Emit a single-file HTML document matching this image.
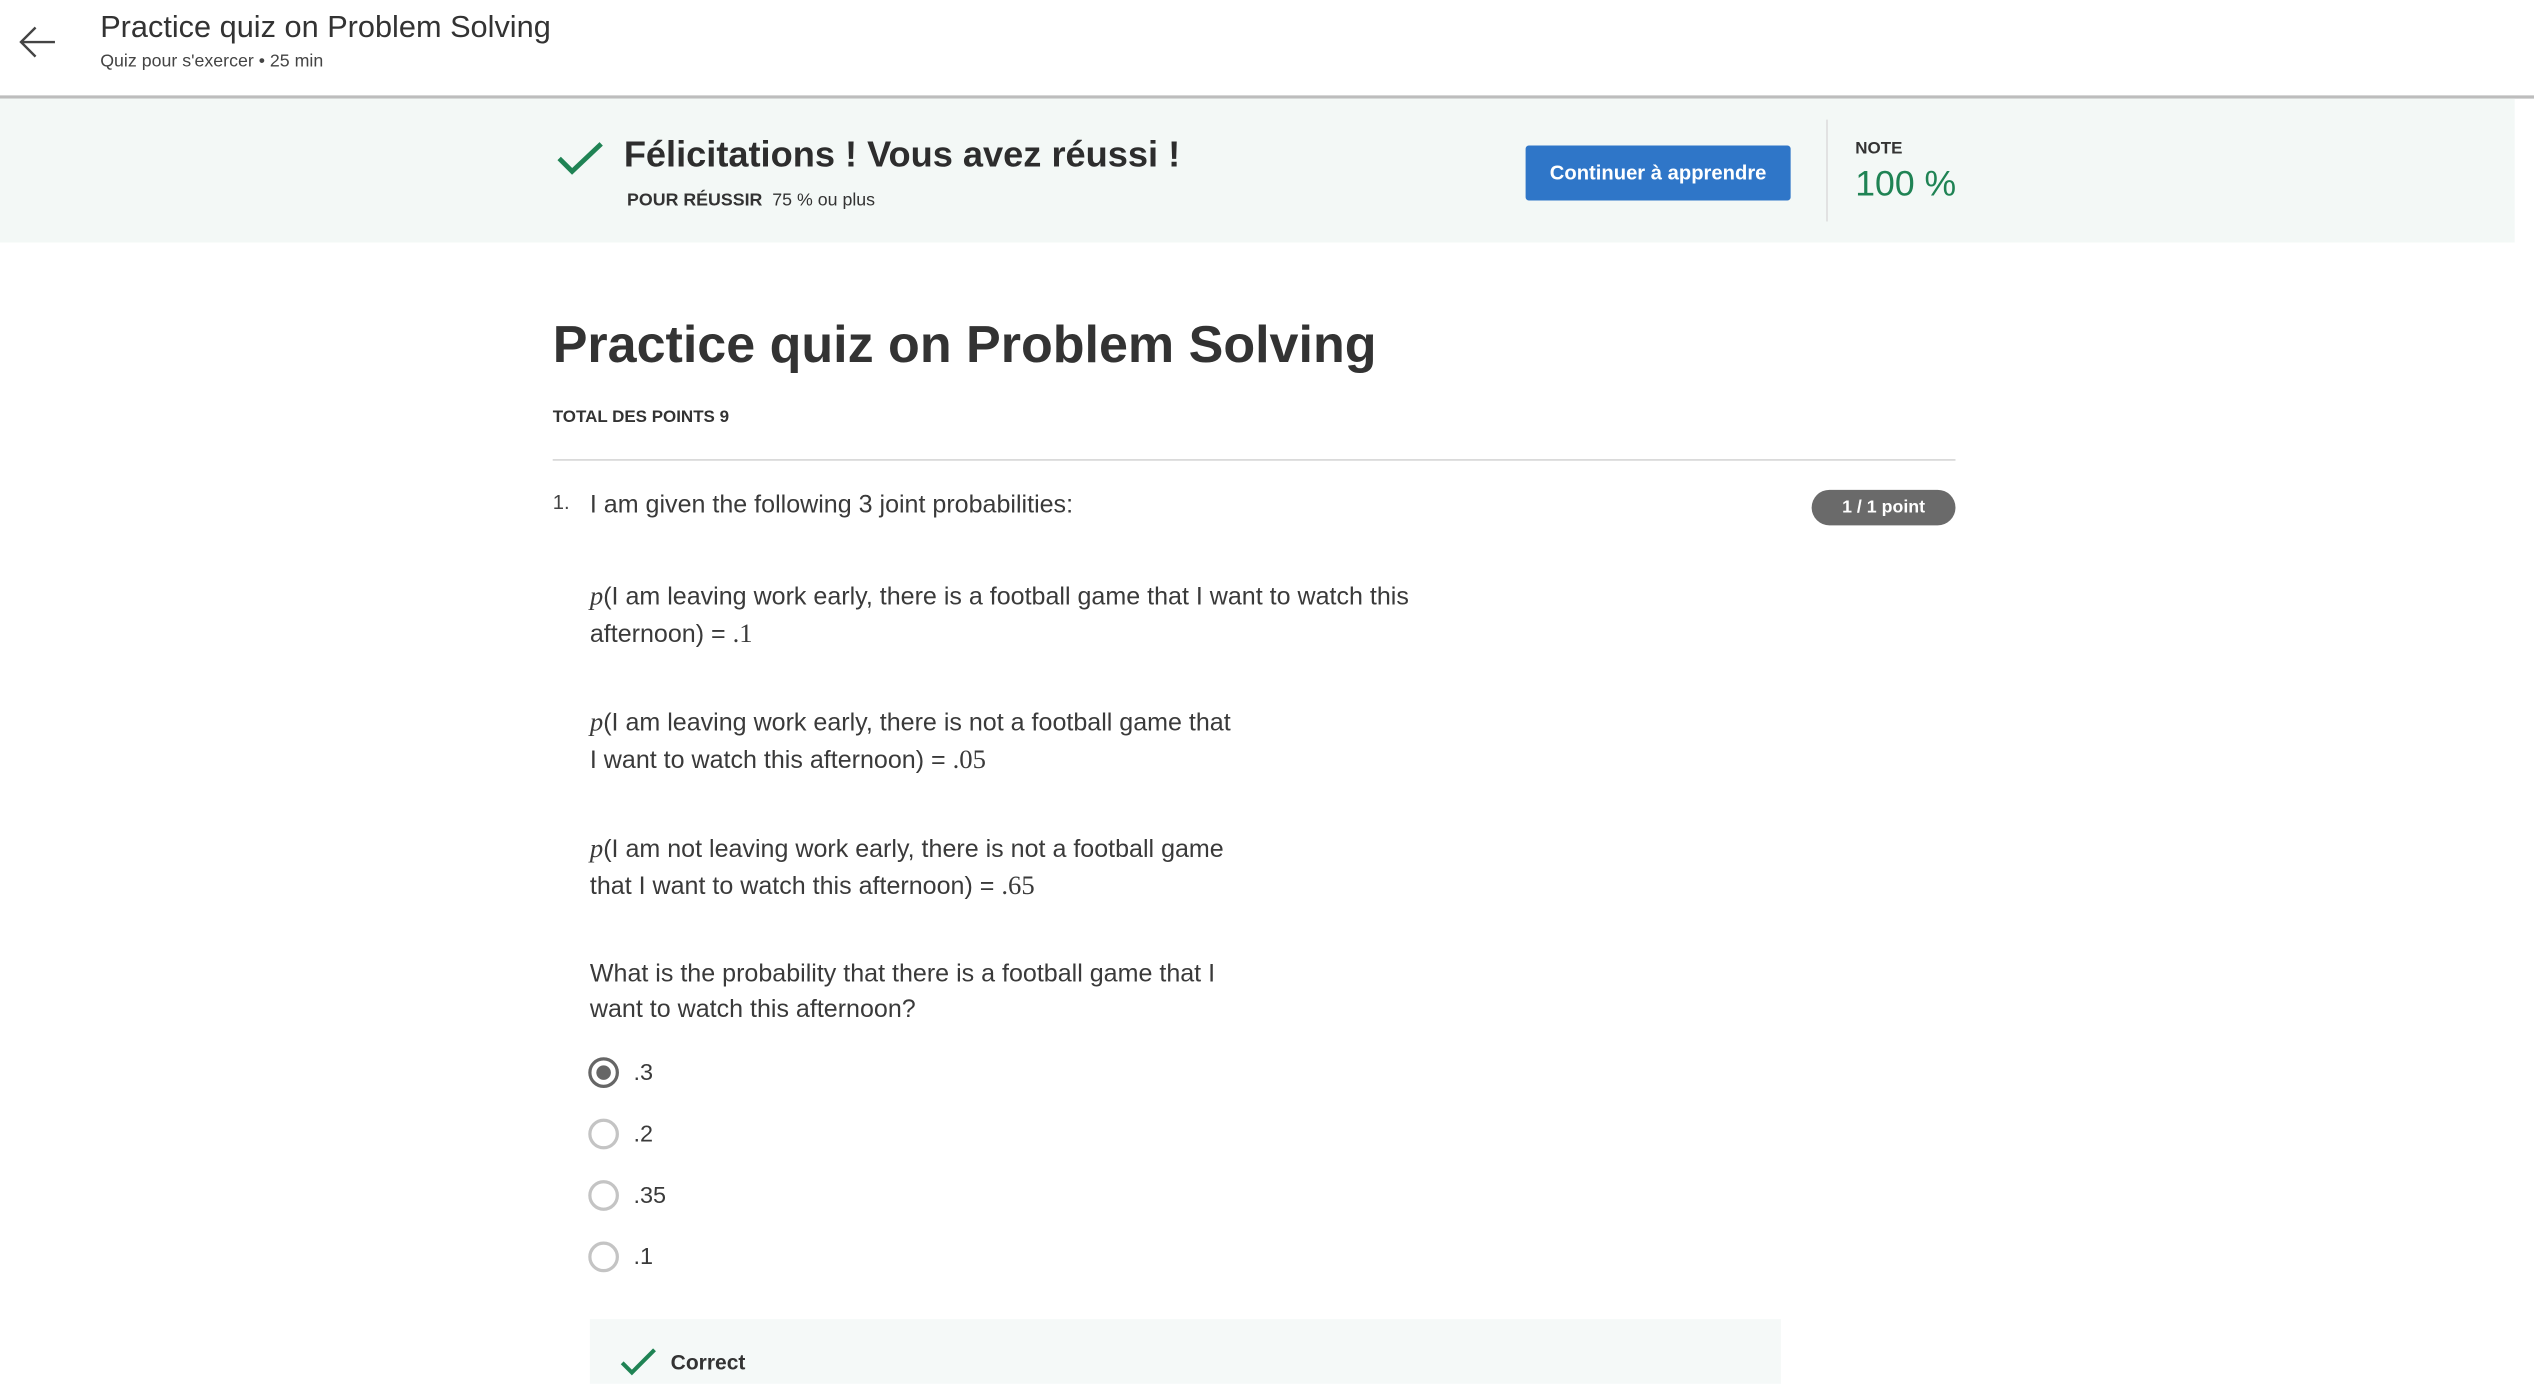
<!DOCTYPE html>
<html><head><meta charset="utf-8"><style>
html,body{margin:0;padding:0;width:2534px;height:1366px;overflow:hidden;background:#fff}
#w{position:absolute;left:0;top:0;width:1568px;height:845px;transform:scale(1.6161,1.6166);transform-origin:0 0;font-family:"Liberation Sans",sans-serif;color:#333}
.a{position:absolute;white-space:nowrap}
.q{position:absolute;left:365px;font-size:15.5px;line-height:22px;color:#3a3a3a;white-space:nowrap}
.m{font-family:"Liberation Serif",serif;font-size:16.5px}
.r{position:absolute;left:364px;width:15px;height:15px;border:2px solid #c4c4c4;border-radius:50%}
.l{position:absolute;left:392px;font-size:14.5px;color:#3a3a3a}
</style></head><body><div id="w">
<svg class="a" style="left:10px;top:14px" width="26" height="24"><path d="M24 12H3M12 3L3 12L12 21" fill="none" stroke="#444" stroke-width="1.5"/></svg>
<div class="a" style="left:62px;top:7px;font-size:19px;color:#333">Practice quiz on Problem Solving</div>
<div class="a" style="left:62px;top:32px;font-size:11px;color:#444">Quiz pour s'exercer • 25 min</div>
<div class="a" style="left:0;top:59px;width:1568px;height:2px;background:#bdbdbd"></div>
<div class="a" style="left:0;top:61px;width:1556px;height:89px;background:#f3f8f6"></div>
<svg class="a" style="left:344px;top:86px" width="30" height="24"><path d="M2 12L10 20L28 3" fill="none" stroke="#1f8354" stroke-width="3"/></svg>
<div class="a" style="left:386px;top:83px;font-size:22.4px;font-weight:bold;color:#2d2d2d">Félicitations ! Vous avez réussi !</div>
<div class="a" style="left:388px;top:118px;font-size:11px;color:#333"><b>POUR RÉUSSIR</b>&nbsp; 75 % ou plus</div>
<div class="a" style="left:944px;top:90px;width:164px;height:34px;background:#2f76c8;border-radius:2px;color:#fff;font-size:12.5px;font-weight:bold;line-height:34px;text-align:center">Continuer à apprendre</div>
<div class="a" style="left:1130px;top:74px;width:1px;height:63px;background:#ddd"></div>
<div class="a" style="left:1148px;top:86px;font-size:10.5px;font-weight:bold;color:#333">NOTE</div>
<div class="a" style="left:1148px;top:101px;font-size:22px;color:#1f8354">100 %</div>
<div class="a" style="left:342px;top:195px;font-size:32.2px;font-weight:bold;color:#333">Practice quiz on Problem Solving</div>
<div class="a" style="left:342px;top:252px;font-size:10.5px;font-weight:bold;color:#333">TOTAL DES POINTS 9</div>
<div class="a" style="left:342px;top:284px;width:868px;height:1px;background:#d6d6d6"></div>
<div class="a" style="left:342px;top:304px;font-size:12.5px;color:#444">1.</div>
<div class="q" style="top:302px">I am given the following 3 joint probabilities:</div>
<div class="a" style="left:1121px;top:303px;width:89px;height:22px;border-radius:11px;background:#6a6a6a;color:#fff;font-size:11px;font-weight:bold;line-height:22px;text-align:center">1 / 1 point</div>
<div class="q" style="top:358px"><i class="m">p</i>(I am leaving work early, there is a football game that I want to watch this<br>afternoon) = <span class="m">.1</span></div>
<div class="q" style="top:436px"><i class="m">p</i>(I am leaving work early, there is not a football game that<br>I want to watch this afternoon) = <span class="m">.05</span></div>
<div class="q" style="top:514px"><i class="m">p</i>(I am not leaving work early, there is not a football game<br>that I want to watch this afternoon) = <span class="m">.65</span></div>
<div class="q" style="top:592px">What is the probability that there is a football game that I<br>want to watch this afternoon?</div>
<div class="r" style="top:654px;border-color:#666"><div style="position:absolute;left:3px;top:3px;width:9px;height:9px;border-radius:50%;background:#666"></div></div>
<div class="l" style="top:656px">.3</div>
<div class="r" style="top:692px"></div>
<div class="l" style="top:694px">.2</div>
<div class="r" style="top:730px"></div>
<div class="l" style="top:732px">.35</div>
<div class="r" style="top:768px"></div>
<div class="l" style="top:770px">.1</div>
<div class="a" style="left:365px;top:816px;width:737px;height:40px;background:#f5f9f8"></div>
<svg class="a" style="left:383px;top:833px" width="24" height="18"><path d="M2 10L8 16L22 2" fill="none" stroke="#1f8354" stroke-width="2.5"/></svg>
<div class="a" style="left:415px;top:835px;font-size:13px;font-weight:bold;color:#333">Correct</div>
</div></body></html>
